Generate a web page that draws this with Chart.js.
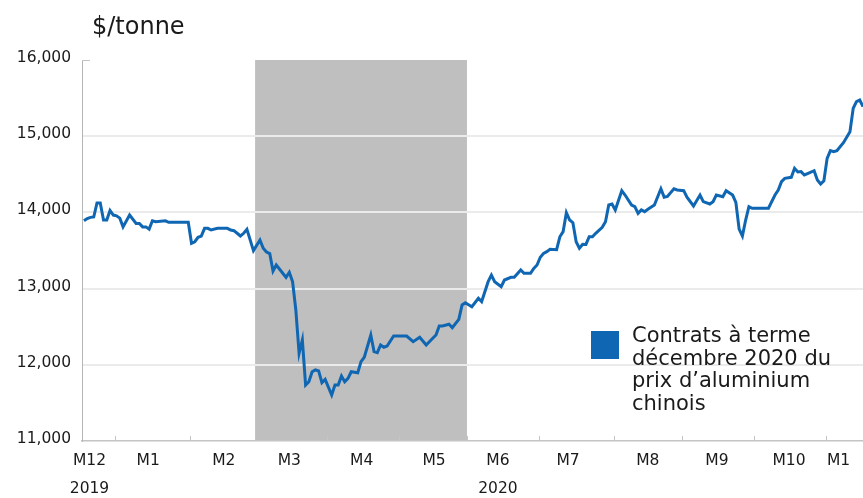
<!DOCTYPE html>
<html>
<head>
<meta charset="utf-8">
<script src="https://cdn.jsdelivr.net/npm/chart.js@4/dist/chart.umd.min.js"></script>
<style>
  html, body { margin: 0; padding: 0; background: #fff; }
</style>
</head>
<body>
<canvas id="aluChart" width="863" height="498"></canvas>
<script>
// x = jour ouvré depuis le 18 déc. 2019 (week-ends sautés, jours fériés reportés à plat)
const days = [0, 1, 2, 3, 4, 5, 6, 7, 8, 9, 10, 11, 12, 14, 16, 17, 18, 19, 20, 21, 22, 25, 26, 32,
  33, 34, 35, 36, 37, 38, 39, 41, 44, 45, 46, 47, 48, 49, 50, 52,
  54, 55, 56, 57, 58, 59, 61, 62, 63, 64, 65, 66, 67, 68, 69, 70, 71, 72, 73, 74,
  76, 77, 78, 79, 80, 81, 82, 84, 85, 86, 88, 89, 90, 91, 92, 93, 95, 99,
  101, 103, 105, 107, 108, 109, 110, 112, 113, 115, 116, 117,
  119, 121, 122, 124, 125, 126, 128, 129, 131, 132, 134, 135, 137, 138, 139,
  140, 141, 142, 143, 145, 146, 147, 148, 149, 150, 151, 152, 153, 154, 155, 156, 157, 159, 160,
  161, 162, 163, 165, 166, 168, 169, 170, 171, 172, 173, 175, 177, 178, 179, 181, 182,
  184, 185, 187, 189, 190, 192, 193, 194, 196, 197, 199, 200, 201, 202, 203, 204, 205, 210,
  212, 213, 214, 215, 217, 218, 219, 220, 221, 222, 224, 225, 226, 227,
  228, 229, 230, 231, 233, 234, 235, 236, 237, 238, 239];
const prices = [13890, 13920, 13935, 13940, 14125, 14125, 13900, 13900, 14025, 13965, 13955, 13925, 13810, 13965, 13855, 13855, 13810, 13810, 13780, 13890, 13878, 13890, 13870, 13870,
  13594, 13615, 13673, 13690, 13791, 13791, 13769, 13791, 13791, 13769, 13760, 13726, 13690, 13726, 13778, 13498,
  13638, 13529, 13480, 13460, 13230, 13310, 13201, 13148, 13214, 13091, 12719, 12151, 12326, 11735, 11778, 11909, 11932, 11920, 11766, 11809,
  11604, 11735, 11735, 11853, 11778, 11822, 11909, 11896, 12041, 12099, 12391, 12173, 12160, 12260, 12230, 12247, 12378, 12378,
  12304, 12361, 12260, 12348, 12391, 12509, 12509, 12532, 12487, 12597, 12785, 12815,
  12763, 12873, 12829, 13091, 13178, 13091, 13026, 13113, 13148, 13150, 13244, 13201, 13201, 13266, 13310,
  13411, 13463, 13485, 13516, 13510, 13680, 13747, 13996, 13900, 13865, 13616, 13529, 13581, 13580, 13681, 13681, 13726, 13804, 13878,
  14097, 14110, 14032, 14285, 14228, 14097, 14075, 13988, 14032, 14010, 14040, 14097, 14310, 14200, 14210, 14310, 14294,
  14285, 14200, 14084, 14228, 14141, 14110, 14141, 14228, 14206, 14285, 14228, 14130, 13780, 13690, 13900, 14075, 14054, 14054,
  14228, 14294, 14403, 14447, 14460, 14578, 14530, 14535, 14491, 14510, 14547, 14425, 14373, 14416,
  14710, 14810, 14797, 14810, 14915, 14986, 15059, 15366, 15453, 15475, 15387];

// limites de mois (entre deux jours ouvrés)
const monthEdges = [9.5, 32.5, 52.5, 74.5, 96.5, 117.5, 139.5, 162.5, 183.5, 205.5, 227.5];
const monthLabels = ['M12', 'M1', 'M2', 'M3', 'M4', 'M5', 'M6', 'M7', 'M8', 'M9', 'M10', 'M1'];
const monthLabelDays = [1.7, 19.7, 42.9, 63.0, 85.2, 107.4, 127.0, 148.5, 173.0, 194.2, 216.3, 231.5];
const yearLabels = { 0: '2019', 6: '2020' };
const yTicks = [11000, 12000, 13000, 14000, 15000, 16000];
const shadeFrom = 52.5, shadeTo = 117.5;   // mars - mai

const blue = '#0f66b2';
const font = 'DejaVu Sans';

const decor = {
    id: 'decor',
    beforeDraw(chart) {
        const { ctx, chartArea, scales } = chart;
        const x1 = scales.x.getPixelForValue(shadeFrom);
        const x2 = scales.x.getPixelForValue(shadeTo);
        ctx.save();
        ctx.fillStyle = '#bfbfbf';
        ctx.fillRect(x1, chartArea.top, x2 - x1, chartArea.bottom - chartArea.top);
        ctx.restore();
    },
    afterDraw(chart) {
        const { ctx, chartArea, scales } = chart;
        ctx.save();
        ctx.strokeStyle = '#c4c4c4';
        ctx.lineWidth = 1;
        monthEdges.forEach(d => {
            const x = Math.round(scales.x.getPixelForValue(d)) + 0.5;
            ctx.beginPath();
            ctx.moveTo(x, chartArea.bottom - 5);
            ctx.lineTo(x, chartArea.bottom);
            ctx.stroke();
        });
        // petit repère en haut de l'axe
        const yTop = Math.round(scales.y.getPixelForValue(16000)) + 0.5;
        ctx.beginPath();
        ctx.moveTo(chartArea.left, yTop);
        ctx.lineTo(chartArea.left + 8, yTop);
        ctx.stroke();

        ctx.fillStyle = '#1a1a1a';
        ctx.font = '24px "' + font + '"';
        ctx.textBaseline = 'alphabetic';
        ctx.fillText('$/tonne', 92, 34);

        // légende
        ctx.fillStyle = blue;
        ctx.fillRect(591, 331, 28, 28);
        ctx.fillStyle = '#1a1a1a';
        ctx.font = '21px "' + font + '"';
        ['Contrats à terme', 'décembre 2020 du', 'prix d’aluminium', 'chinois'].forEach((t, i) => {
            ctx.fillText(t, 632, 342 + i * 22.7);
        });
        ctx.restore();
    }
};

const ctx = document.getElementById('aluChart').getContext('2d');
const aluChart = new Chart(ctx, {
    type: 'line',
    data: {
        datasets: [{
            data: days.map((d, i) => ({ x: d, y: prices[i] })),
            borderColor: blue,
            borderWidth: 3,
            pointRadius: 0,
            tension: 0,
            fill: false
        }]
    },
    options: {
        responsive: false,
        animation: false,
        layout: { padding: { top: 60, left: 0, right: 0, bottom: 0 } },
        plugins: {
            legend: { display: false },
            tooltip: { enabled: false }
        },
        scales: {
            x: {
                type: 'linear',
                min: -0.6,
                max: 239,
                afterBuildTicks: s => { s.ticks = monthLabelDays.map(v => ({ value: v })); },
                afterFit: s => { s.height = 57; },
                grid: { display: false, drawTicks: false },
                border: { display: true, color: '#c4c4c4', width: 1.5 },
                ticks: {
                    autoSkip: false,
                    maxRotation: 0,
                    padding: 6,
                    color: '#1a1a1a',
                    font: { family: font, size: 15.5, lineHeight: '28px' },
                    callback: (v, i) => yearLabels[i] ? [monthLabels[i], yearLabels[i]] : monthLabels[i]
                }
            },
            y: {
                min: 11000,
                max: 16000,
                afterBuildTicks: s => { s.ticks = yTicks.map(v => ({ value: v })); },
                afterFit: s => { s.width = 82; },
                border: { display: true, color: '#b5b5b5', width: 1 },
                grid: {
                    drawTicks: false,
                    lineWidth: 2,
                    color: c => (c.tick && (c.tick.value === 11000 || c.tick.value === 16000)) ? 'rgba(0,0,0,0)' : '#ebebeb'
                },
                ticks: {
                    padding: 11,
                    labelOffset: -2,
                    color: '#1a1a1a',
                    font: { family: font, size: 15.5 },
                    callback: v => String(v).replace(/\B(?=(\d{3})+(?!\d))/g, ',')
                }
            }
        }
    },
    plugins: [decor]
});
</script>
</body>
</html>
